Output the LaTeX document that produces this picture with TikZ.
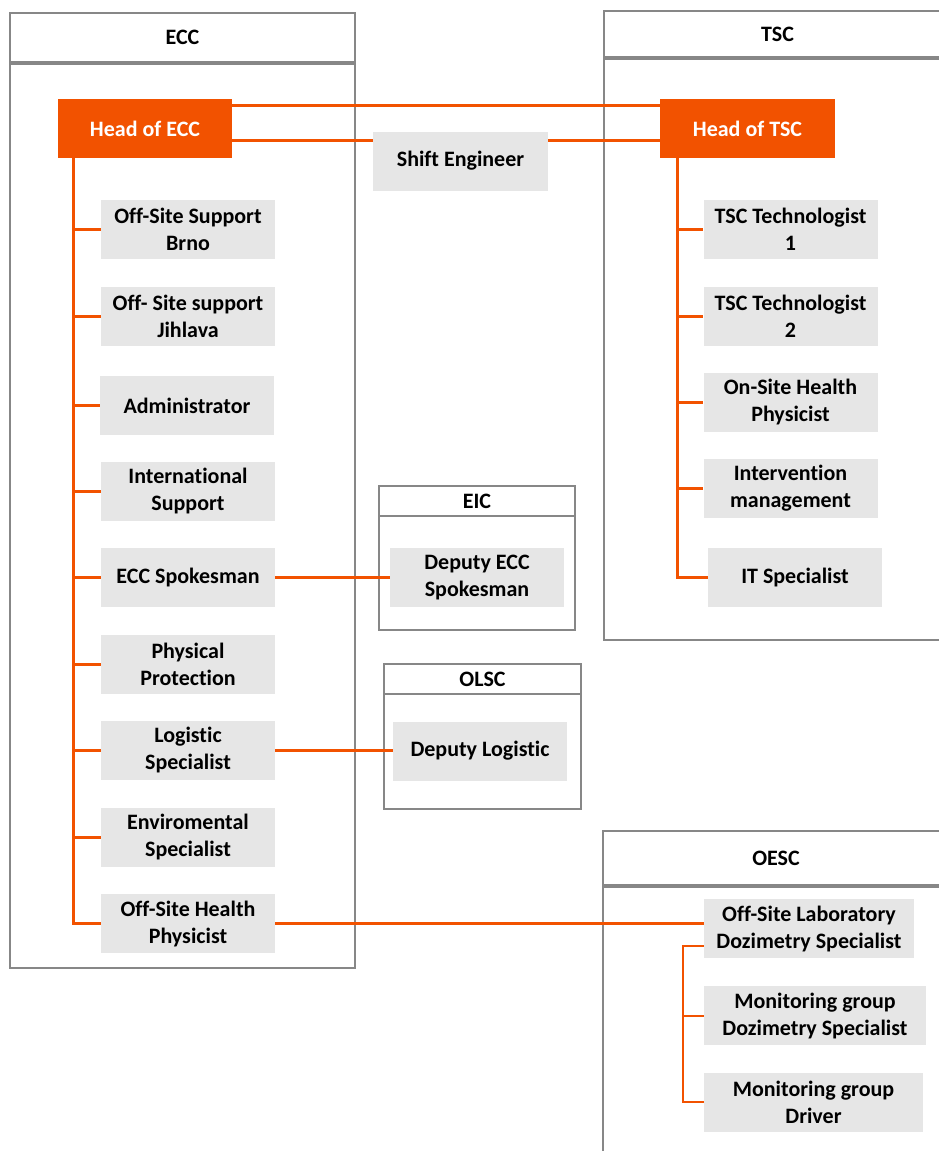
\documentclass[tikz,border=0pt]{standalone}
\usepackage{fontspec}
\setmainfont{Carlito}[Ligatures=NoCommon]
\usepackage{xcolor}
\usetikzlibrary{positioning}

\definecolor{headorange}{HTML}{F25200}
\definecolor{boxgray}{HTML}{E6E6E6}
\definecolor{framegray}{HTML}{878787}

\begin{document}
\begin{tikzpicture}[
    x=1pt, y=-1pt,
    every node/.style={align=center, font=\fontsize{22}{27}\selectfont\bfseries},
    role/.style={rectangle, fill=boxgray, minimum width=174pt, minimum height=59pt, inner sep=0pt},
    headbox/.style={role, fill=headorange, text=white},
    unitframe/.style={draw=framegray, line width=2.5pt},
    unithead/.style={rectangle, unitframe, inner sep=0pt},
    link/.style={draw=headorange, line width=3pt},
    sublink/.style={draw=headorange, line width=2pt}
]
\clip (0,0) rectangle (939,1151);

% units
\node[unithead, minimum width=345pt, minimum height=49pt] (ecc) at (182.5,37.5) {ECC};
\draw[unitframe] (10,64) rectangle (355,968);
\node[unithead, minimum width=347pt, minimum height=46pt] (tsc) at (777.5,34) {TSC};
\draw[unitframe] (604,59) rectangle (951,640);
\node[unithead, minimum width=196pt, minimum height=30pt] (eic) at (477,501) {EIC};
\draw[unitframe] (379,516) rectangle (575,630);
\node[unithead, minimum width=197pt, minimum height=30pt] (olsc) at (482.5,679) {OLSC};
\draw[unitframe] (384,694) rectangle (581,809);
\node[unithead, minimum width=346pt, minimum height=54pt] (oesc) at (776,858) {OESC};
\draw[unitframe] (603,887) rectangle (949,1170);

% heads
\node[headbox] (heade) at (145,128.5) {Head of ECC};
\node[headbox, minimum width=175pt] (headt) at (747.5,128.5) {Head of TSC};
\node[role, minimum width=175pt] (shift) at (460.5,161) {Shift Engineer};

% ECC
\node[role] (brno) at (188,229.5) {Off-Site Support\\Brno};
\node[role] (jihlava) at (188,316.5) {Off- Site support\\Jihlava};
\node[role] (admin) at (187,405.5) {Administrator};
\node[role] (intl) at (188,491.5) {International\\Support};
\node[role] (spokes) at (188,577.5) {ECC Spokesman};
\node[role] (physprot) at (188,664.5) {Physical\\Protection};
\node[role] (logist) at (188,750.5) {Logistic\\Specialist};
\node[role] (envir) at (188,837.5) {Enviromental\\Specialist};
\node[role] (oshp) at (188,923.5) {Off-Site Health\\Physicist};

% TSC
\node[role] (tech1) at (790.5,229.5) {TSC Technologist\\1};
\node[role] (tech2) at (790.5,316.5) {TSC Technologist\\2};
\node[role] (onsite) at (790.5,402.5) {On-Site Health\\Physicist};
\node[role] (interv) at (790.5,488.5) {Intervention\\management};
\node[role] (itspec) at (795,577.5) {IT Specialist};

% EIC, OLSC
\node[role] (depspokes) at (477,577.5) {Deputy ECC\\Spokesman};
\node[role] (deplog) at (480,751) {Deputy Logistic};

% OESC
\node[role, minimum width=210pt] (oslds) at (809,928.5) {Off-Site Laboratory\\Dozimetry Specialist};
\node[role, minimum width=222pt] (mgds) at (815,1015.5) {Monitoring group\\Dozimetry Specialist};
\node[role, minimum width=219pt] (mgd) at (813.5,1102) {Monitoring group\\Driver};

% links between heads
\draw[link] ([yshift=23pt]heade.east) -- ([yshift=23pt]headt.west);
\draw[link] ([yshift=-12pt]heade.east) -- ([yshift=20.5pt]shift.west);
\draw[link] ([yshift=20.5pt]shift.east) -- ([yshift=-12pt]headt.west);

% ECC tree
\draw[link] ([xshift=-72pt]heade.south) |- (brno.west);
\draw[link] ([xshift=-72pt]heade.south) |- (jihlava.west);
\draw[link] ([xshift=-72pt]heade.south) |- (admin.west);
\draw[link] ([xshift=-72pt]heade.south) |- (intl.west);
\draw[link] ([xshift=-72pt]heade.south) |- (spokes.west);
\draw[link] ([xshift=-72pt]heade.south) |- (physprot.west);
\draw[link] ([xshift=-72pt]heade.south) |- (logist.west);
\draw[link] ([xshift=-72pt]heade.south) |- (envir.west);
\draw[link] ([xshift=-72pt]heade.south) |- (oshp.west);

% TSC tree
\draw[link] ([xshift=-70.5pt]headt.south) |- (tech1.west);
\draw[link] ([xshift=-70.5pt]headt.south) |- (tech2.west);
\draw[link] ([xshift=-70.5pt]headt.south) |- (onsite.west);
\draw[link] ([xshift=-70.5pt]headt.south) |- (interv.west);
\draw[link] ([xshift=-70.5pt]headt.south) |- (itspec.west);

% across units
\draw[link] (spokes.east) -- (depspokes.west);
\draw[link] (logist.east) -- (logist.east -| deplog.west);
\draw[link] (oshp.east) -- (oshp.east -| oslds.west);

% OESC tree
\draw[sublink] ([yshift=-17.5pt]oslds.west) -- ++(-21,0) |- (mgd.west);
\draw[sublink] (mgds.west) -- ++(-21,0);

\end{tikzpicture}
\end{document}
